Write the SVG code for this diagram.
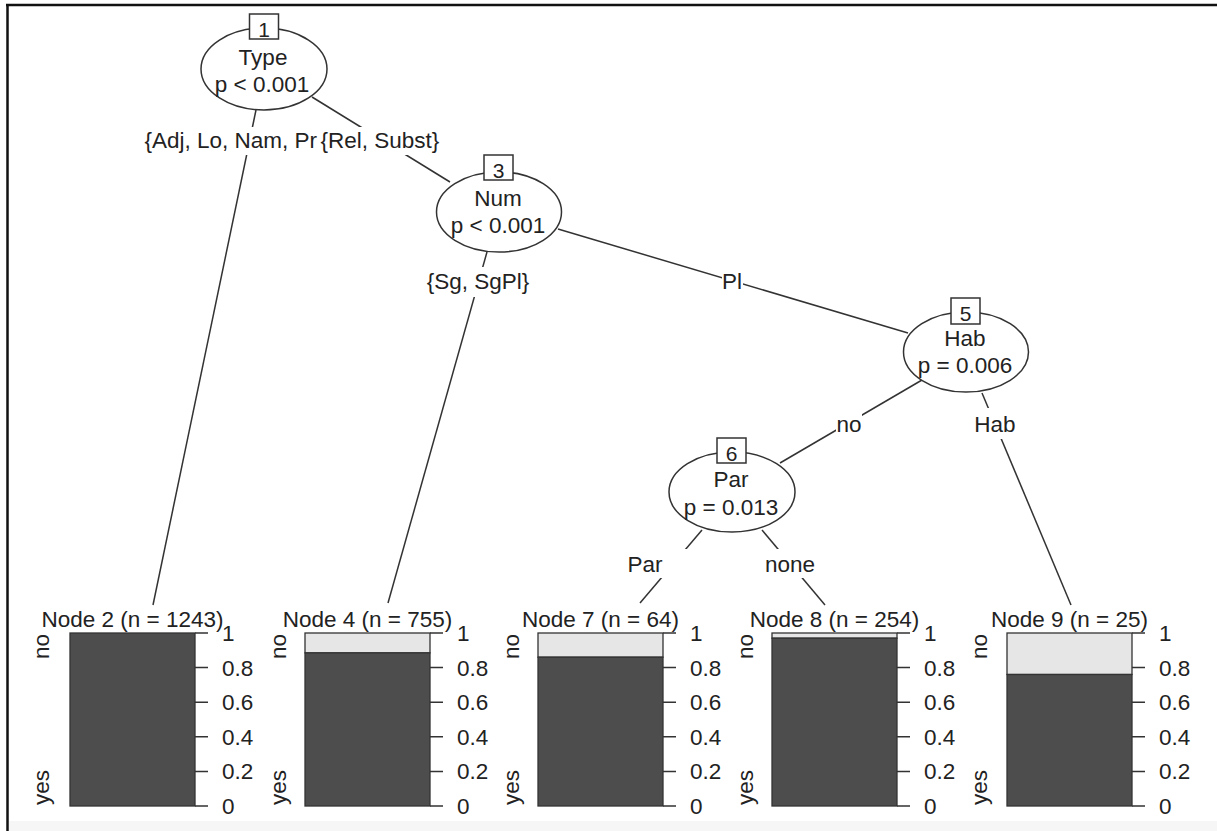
<svg xmlns="http://www.w3.org/2000/svg" width="1217" height="831" viewBox="0 0 1217 831">
<style>
text{font-family:"Liberation Sans",Arial,sans-serif;font-size:22.5px;fill:#222}
.c{text-anchor:middle}
.id{font-size:21px;text-anchor:middle}
.edge{stroke:#333;stroke-width:1.5;fill:none}
.lbg{fill:#fff}
.ell{fill:#fff;stroke:#333;stroke-width:1.5}
.box{fill:#fff;stroke:#333;stroke-width:1.5}
.dark{fill:#4d4d4d;stroke:#333;stroke-width:1.3}
.light{fill:#e6e6e6;stroke:#333;stroke-width:1.3}
.tick{stroke:#333;stroke-width:1.5}
.frame{stroke:#111;stroke-width:2.5}
</style>
<rect x="0" y="0" width="1217" height="831" fill="#fff"/>
<rect x="9" y="821" width="1208" height="10" fill="#f6f6f6"/>
<line class="frame" x1="6" y1="5" x2="1217" y2="5"/>
<line class="frame" x1="7.5" y1="4" x2="7.5" y2="831"/>

<g id="connectors">
  <line class="edge" x1="256" y1="110" x2="153" y2="605"/>
  <line class="edge" x1="312" y1="97" x2="450" y2="182"/>
  <line class="edge" x1="487" y1="252" x2="388" y2="603"/>
  <line class="edge" x1="558" y1="229" x2="908" y2="333"/>
  <line class="edge" x1="922" y1="380" x2="780" y2="463"/>
  <line class="edge" x1="982" y1="393" x2="1071" y2="605"/>
  <line class="edge" x1="702" y1="530" x2="640" y2="603"/>
  <line class="edge" x1="762" y1="530" x2="825" y2="605"/>
  <rect class="lbg" x="144" y="127" width="177" height="28"/>
  <text x="144.5" y="148">{Adj, Lo, Nam, Pr</text>
  <rect class="lbg" x="322" y="127" width="120" height="28"/>
  <text x="320.5" y="148">{Rel, Subst}</text>
  <rect class="lbg" x="426" y="267" width="104" height="30"/>
  <text class="c" x="478" y="288.5">{Sg, SgPl}</text>
  <rect class="lbg" x="722" y="267" width="21" height="30"/>
  <text class="c" x="732" y="288.5">Pl</text>
  <rect class="lbg" x="836" y="411" width="26" height="28"/>
  <text class="c" x="849" y="432">no</text>
  <rect class="lbg" x="974" y="408" width="42" height="31"/>
  <text class="c" x="995" y="432">Hab</text>
  <rect class="lbg" x="627" y="549" width="62" height="29"/>
  <text class="c" x="645" y="572">Par</text>
  <rect class="lbg" x="765" y="549" width="51" height="29"/>
  <text class="c" x="790" y="572">none</text>
</g>

<g id="node1">
  <ellipse class="ell" cx="264" cy="69" rx="63" ry="41"/>
  <rect class="box" x="249.5" y="14" width="29" height="25"/>
  <text class="id" x="264" y="36.5">1</text>
  <text class="c" x="263" y="65">Type</text>
  <text class="c" x="262" y="92">p &lt; 0.001</text>
</g>
<g id="node3">
  <ellipse class="ell" cx="499" cy="212" rx="62.5" ry="40"/>
  <rect class="box" x="484" y="155" width="29" height="25"/>
  <text class="id" x="498.5" y="177.5">3</text>
  <text class="c" x="498" y="205.5">Num</text>
  <text class="c" x="498" y="233">p &lt; 0.001</text>
</g>
<g id="node5">
  <ellipse class="ell" cx="966" cy="352" rx="62.5" ry="40"/>
  <rect class="box" x="951" y="298" width="29" height="26"/>
  <text class="id" x="965.5" y="320.5">5</text>
  <text class="c" x="965" y="346">Hab</text>
  <text class="c" x="965" y="373">p = 0.006</text>
</g>
<g id="node6">
  <ellipse class="ell" cx="732" cy="492" rx="63" ry="40"/>
  <rect class="box" x="717" y="438" width="29" height="25"/>
  <text class="id" x="731.5" y="460.5">6</text>
  <text class="c" x="731" y="487">Par</text>
  <text class="c" x="731" y="515">p = 0.013</text>
</g>

<g id="node2">
  <text class="c" x="132.5" y="627">Node 2 (n = 1243)</text>
  <rect class="dark" x="70" y="633" width="125" height="173"/>
  <path class="tick" d="M195 806h13M195 771.4h13M195 736.8h13M195 702.2h13M195 667.6h13M195 633h13"/>
  <text x="222" y="814">0</text><text x="222" y="779.4">0.2</text><text x="222" y="744.8">0.4</text><text x="222" y="710.2">0.6</text><text x="222" y="675.6">0.8</text><text x="222" y="641">1</text>
  <text transform="translate(49,634) rotate(-90)" text-anchor="end">no</text>
  <text transform="translate(49,805) rotate(-90)">yes</text>
</g>
<g id="node4">
  <text class="c" x="367.5" y="627">Node 4 (n = 755)</text>
  <rect class="light" x="305" y="633" width="125" height="19.9"/>
  <rect class="dark" x="305" y="652.9" width="125" height="153.1"/>
  <path class="tick" d="M430 806h13M430 771.4h13M430 736.8h13M430 702.2h13M430 667.6h13M430 633h13"/>
  <text x="457" y="814">0</text><text x="457" y="779.4">0.2</text><text x="457" y="744.8">0.4</text><text x="457" y="710.2">0.6</text><text x="457" y="675.6">0.8</text><text x="457" y="641">1</text>
  <text transform="translate(286,634) rotate(-90)" text-anchor="end">no</text>
  <text transform="translate(286,805) rotate(-90)">yes</text>
</g>
<g id="node7">
  <text class="c" x="600.5" y="627">Node 7 (n = 64)</text>
  <rect class="light" x="538" y="633" width="125" height="24.2"/>
  <rect class="dark" x="538" y="657.2" width="125" height="148.8"/>
  <path class="tick" d="M663 806h13M663 771.4h13M663 736.8h13M663 702.2h13M663 667.6h13M663 633h13"/>
  <text x="690" y="814">0</text><text x="690" y="779.4">0.2</text><text x="690" y="744.8">0.4</text><text x="690" y="710.2">0.6</text><text x="690" y="675.6">0.8</text><text x="690" y="641">1</text>
  <text transform="translate(519,634) rotate(-90)" text-anchor="end">no</text>
  <text transform="translate(519,805) rotate(-90)">yes</text>
</g>
<g id="node8">
  <text class="c" x="834.5" y="627">Node 8 (n = 254)</text>
  <rect class="light" x="772" y="633" width="125" height="5.2"/>
  <rect class="dark" x="772" y="638.2" width="125" height="167.8"/>
  <path class="tick" d="M897 806h13M897 771.4h13M897 736.8h13M897 702.2h13M897 667.6h13M897 633h13"/>
  <text x="924" y="814">0</text><text x="924" y="779.4">0.2</text><text x="924" y="744.8">0.4</text><text x="924" y="710.2">0.6</text><text x="924" y="675.6">0.8</text><text x="924" y="641">1</text>
  <text transform="translate(753,634) rotate(-90)" text-anchor="end">no</text>
  <text transform="translate(753,805) rotate(-90)">yes</text>
</g>
<g id="node9">
  <text class="c" x="1069.5" y="627">Node 9 (n = 25)</text>
  <rect class="light" x="1007" y="633" width="125" height="41.5"/>
  <rect class="dark" x="1007" y="674.5" width="125" height="131.5"/>
  <path class="tick" d="M1132 806h13M1132 771.4h13M1132 736.8h13M1132 702.2h13M1132 667.6h13M1132 633h13"/>
  <text x="1159" y="814">0</text><text x="1159" y="779.4">0.2</text><text x="1159" y="744.8">0.4</text><text x="1159" y="710.2">0.6</text><text x="1159" y="675.6">0.8</text><text x="1159" y="641">1</text>
  <text transform="translate(987,634) rotate(-90)" text-anchor="end">no</text>
  <text transform="translate(987,805) rotate(-90)">yes</text>
</g>
</svg>
